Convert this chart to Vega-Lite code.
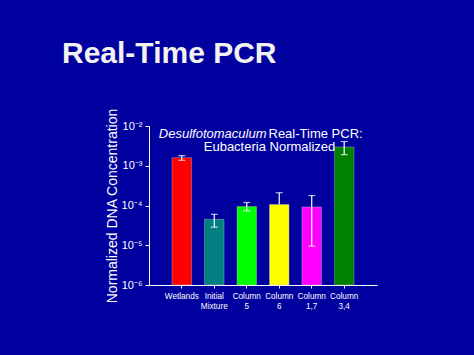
{
  "$schema": "https://vega.github.io/schema/vega-lite/v6.json",
  "autosize": "none",
  "width": 228,
  "height": 159,
  "padding": {"left": 149, "top": 126, "right": 97, "bottom": 70},
  "background": "#00009e",
  "title": {
    "text": "Real-Time PCR",
    "anchor": "start",
    "frame": "group",
    "dx": -87,
    "offset": 15,
    "font": "Liberation Sans",
    "fontSize": 30,
    "fontWeight": "bold",
    "color": "#f2f2f2",
    "baseline": "alphabetic"
  },
  "config": {
    "view": {"stroke": null},
    "font": "Liberation Sans"
  },
  "data": {
    "values": [
      {"sample": "Wetlands", "value": 0.0016, "lo": 0.00137, "hi": 0.0018},
      {"sample": "Initial Mixture", "value": 0.000045, "lo": 0.0000285, "hi": 0.00006},
      {"sample": "Column 5", "value": 0.000094, "lo": 0.000073, "hi": 0.000119},
      {"sample": "Column 6", "value": 0.000106, "lo": 0.000106, "hi": 0.00021},
      {"sample": "Column 1,7", "value": 0.000092, "lo": 0.0000095, "hi": 0.000178},
      {"sample": "Column 3,4", "value": 0.00297, "lo": 0.0019, "hi": 0.00407}
    ]
  },
  "encoding": {
    "x": {
      "field": "sample",
      "type": "nominal",
      "sort": null,
      "scale": {"paddingInner": 0.4, "paddingOuter": 0.71},
      "axis": {
        "title": null,
        "labelAngle": 0,
        "labelExpr": "split(datum.label, ' ')",
        "labelColor": "#ffffff",
        "labelFontSize": 8.2,
        "labelLineHeight": 10,
        "labelPadding": 4,
        "domainColor": "#ffffff",
        "domainWidth": 1,
        "tickColor": "#ffffff",
        "tickSize": 3
      }
    }
  },
  "layer": [
    {
      "mark": {"type": "bar", "strokeWidth": 0.8, "strokeOpacity": 0.5},
      "encoding": {
        "y": {
          "field": "value",
          "type": "quantitative",
          "scale": {"type": "log", "domain": [0.000001, 0.01], "nice": false},
          "axis": {
            "title": "Normalized DNA Concentration",
            "titleColor": "#ffffff",
            "titleFontSize": 14,
            "titleFontWeight": "normal",
            "titlePadding": 2,
            "values": [0.000001, 0.00001, 0.0001, 0.001, 0.01],
            "labelExpr": "datum.value >= 0.01 ? '10⁻²' : datum.value >= 0.001 ? '10⁻³' : datum.value >= 0.0001 ? '10⁻⁴' : datum.value >= 0.00001 ? '10⁻⁵' : '10⁻⁶'",
            "labelColor": "#ffffff",
            "labelFontSize": 11,
            "labelPadding": 3,
            "grid": false,
            "domainColor": "#ffffff",
            "tickColor": "#ffffff",
            "tickSize": 4
          }
        },
        "y2": {"datum": 0.000001},
        "color": {
          "field": "sample",
          "type": "nominal",
          "sort": null,
          "scale": {
            "domain": ["Wetlands", "Initial Mixture", "Column 5", "Column 6", "Column 1,7", "Column 3,4"],
            "range": ["#ff0000", "#008080", "#00ff00", "#ffff00", "#ff00ff", "#008000"]
          },
          "legend": null
        },
        "stroke": {"value": "#c0c0c0"}
      }
    },
    {
      "mark": {"type": "rule", "color": "#ffffff", "strokeWidth": 1.2},
      "encoding": {
        "y": {"field": "lo", "type": "quantitative"},
        "y2": {"field": "hi"}
      }
    },
    {
      "mark": {"type": "tick", "color": "#ffffff", "thickness": 1.2, "size": 7},
      "encoding": {"y": {"field": "hi", "type": "quantitative"}}
    },
    {
      "transform": [{"filter": "datum.lo < datum.value"}],
      "mark": {"type": "tick", "color": "#ffffff", "thickness": 1.2, "size": 7},
      "encoding": {"y": {"field": "lo", "type": "quantitative"}}
    },
    {
      "data": {"values": [{"t": "Desulfotomaculum"}]},
      "mark": {"type": "text", "align": "right", "baseline": "alphabetic", "fontStyle": "italic", "fontSize": 13, "color": "#ffffff", "dx": -3},
      "encoding": {
        "x": {"datum": "Column 6", "bandPosition": 0},
        "y": {"datum": 0.0051},
        "text": {"field": "t"}
      }
    },
    {
      "data": {"values": [{"t": "Real-Time PCR:"}]},
      "mark": {"type": "text", "align": "left", "baseline": "alphabetic", "fontSize": 13, "color": "#ffffff", "dx": -1},
      "encoding": {
        "x": {"datum": "Column 6", "bandPosition": 0},
        "y": {"datum": 0.0051},
        "text": {"field": "t"}
      }
    },
    {
      "data": {"values": [{"t": "Eubacteria Normalized"}]},
      "mark": {"type": "text", "align": "center", "baseline": "alphabetic", "fontSize": 13, "color": "#ffffff"},
      "encoding": {
        "x": {"datum": "Column 6", "bandPosition": 0},
        "y": {"datum": 0.00235},
        "text": {"field": "t"}
      }
    }
  ]
}
